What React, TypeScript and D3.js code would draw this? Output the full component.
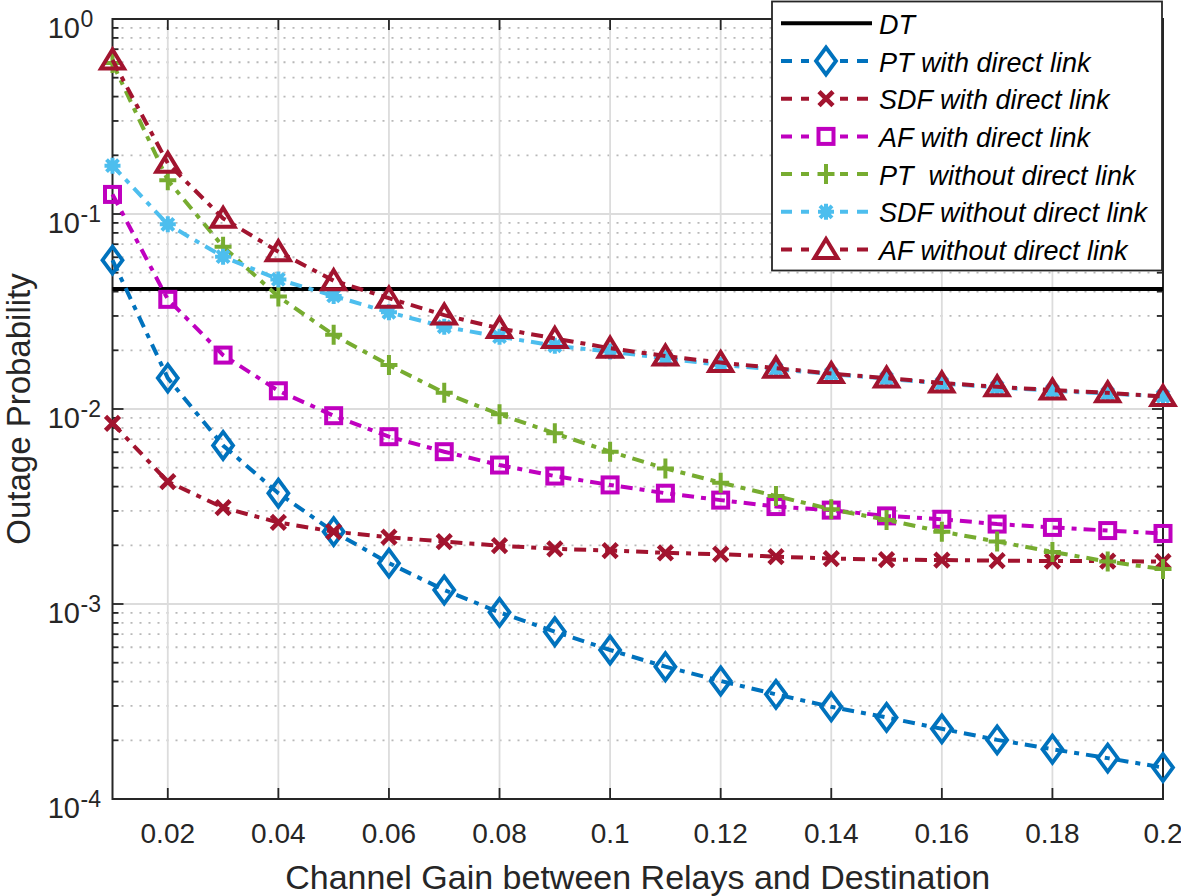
import React from 'react';
import * as d3 from 'd3';

// ---------------- data ----------------
const gains = [0.01, 0.02, 0.03, 0.04, 0.05, 0.06, 0.07, 0.08, 0.09, 0.1, 0.11, 0.12, 0.13, 0.14, 0.15, 0.16, 0.17, 0.18, 0.19, 0.2];

const dtValue = 0.0413;

const ptWith = [0.058, 0.0144, 0.0065, 0.0037, 0.00235, 0.00162, 0.00118, 0.000906, 0.000721, 0.000581, 0.000477, 0.000403, 0.000344, 0.000297, 0.000262, 0.000229, 0.000201, 0.00018, 0.000162, 0.000145];
const sdfWith = [0.00845, 0.00424, 0.00312, 0.00262, 0.00235, 0.0022, 0.00209, 0.00199, 0.00192, 0.00188, 0.00183, 0.0018, 0.00175, 0.00171, 0.00169, 0.00168, 0.00167, 0.00166, 0.00166, 0.00165];
const afWith = [0.126, 0.0365, 0.0189, 0.0124, 0.00924, 0.00721, 0.00604, 0.00516, 0.00453, 0.00408, 0.0037, 0.00341, 0.00316, 0.00303, 0.00283, 0.00272, 0.00257, 0.00247, 0.00238, 0.0023];
const ptWithout = [0.595, 0.149, 0.068, 0.0377, 0.024, 0.0168, 0.0121, 0.00939, 0.0075, 0.00604, 0.00496, 0.00419, 0.00358, 0.00306, 0.0027, 0.00235, 0.00209, 0.00185, 0.00165, 0.00151];
const sdfWithout = [0.177, 0.0885, 0.0604, 0.0462, 0.038, 0.0313, 0.0264, 0.0235, 0.0211, 0.0197, 0.0182, 0.0168, 0.016, 0.0151, 0.0143, 0.0135, 0.0129, 0.0124, 0.012, 0.0116];
const afWithout = [0.616, 0.182, 0.095, 0.0641, 0.0455, 0.037, 0.0303, 0.0259, 0.023, 0.0205, 0.0187, 0.0173, 0.0162, 0.0152, 0.0144, 0.0136, 0.013, 0.0125, 0.0121, 0.0116];

const xTicks = [0.02, 0.04, 0.06, 0.08, 0.1, 0.12, 0.14, 0.16, 0.18, 0.2];
const xTickLabels = ['0.02', '0.04', '0.06', '0.08', '0.1', '0.12', '0.14', '0.16', '0.18', '0.2'];
const yTickExponents = [0, -1, -2, -3, -4];

const legendLabels = ['DT', 'PT with direct link', 'SDF with direct link', 'AF with direct link', 'PT  without direct link', 'SDF without direct link', 'AF without direct link'];

const xLabel = 'Channel Gain between Relays and Destination';
const yLabel = 'Outage Probability';

// ---------------- styling ----------------
const W = 1181;
const H = 896;
const P = { left: 112.5, right: 1163, top: 19, bottom: 799 };
const FONT = '"Liberation Sans", Arial, Helvetica, sans-serif';
const AXIS_COLOR = '#262626';
const DASH = '12,7,5,7';
const LW = 4;

type MarkerKind = 'diamond' | 'x' | 'square' | 'plus' | 'star' | 'triangle';

const series: { values: number[]; color: string; marker: MarkerKind }[] = [
  { values: ptWith, color: '#0072BD', marker: 'diamond' },
  { values: sdfWith, color: '#A2142F', marker: 'x' },
  { values: afWith, color: '#BF00BF', marker: 'square' },
  { values: ptWithout, color: '#77AC30', marker: 'plus' },
  { values: sdfWithout, color: '#4DBEEE', marker: 'star' },
  { values: afWithout, color: '#A2142F', marker: 'triangle' },
];

function Marker({ kind, cx, cy, color }: { kind: MarkerKind; cx: number; cy: number; color: string }) {
  const common = { fill: 'none', stroke: color, strokeLinejoin: 'miter' as const };
  switch (kind) {
    case 'diamond':
      return <path d={`M${cx},${cy - 13.5}L${cx + 10},${cy}L${cx},${cy + 13.5}L${cx - 10},${cy}Z`} {...common} strokeWidth={3.8} />;
    case 'square':
      return <rect x={cx - 7.5} y={cy - 7.5} width={15} height={15} {...common} strokeWidth={4} />;
    case 'x':
      return <path d={`M${cx - 7},${cy - 7}L${cx + 7},${cy + 7}M${cx - 7},${cy + 7}L${cx + 7},${cy - 7}`} {...common} strokeWidth={4.6} />;
    case 'plus':
      return <path d={`M${cx - 8.5},${cy}L${cx + 8.5},${cy}M${cx},${cy - 10}L${cx},${cy + 10}`} {...common} strokeWidth={4} />;
    case 'star':
      return (
        <g>
          <path d={`M${cx - 8},${cy}L${cx + 8},${cy}M${cx},${cy - 8}L${cx},${cy + 8}M${cx - 6},${cy - 6}L${cx + 6},${cy + 6}M${cx - 6},${cy + 6}L${cx + 6},${cy - 6}`} {...common} strokeWidth={4} />
          <circle cx={cx} cy={cy} r={5.5} fill={color} />
        </g>
      );
    case 'triangle':
      return <path d={`M${cx},${cy - 10.5}L${cx + 11.5},${cy + 8.5}L${cx - 11.5},${cy + 8.5}Z`} {...common} strokeWidth={4} />;
  }
  return null;
}

export default function App() {
  const x = d3.scaleLinear().domain([0.01, 0.2]).range([P.left, P.right]);
  const y = d3.scaleLog().domain([1e-4, 1]).range([P.bottom, P.top]);

  const allTicks = y.ticks();
  const minorTicks = allTicks.filter((t) => {
    const l = Math.log10(t);
    return Math.abs(l - Math.round(l)) > 1e-6;
  });

  const line = d3
    .line<number>()
    .x((_, i) => x(gains[i]))
    .y((d) => y(d));

  const legendX = 772;
  const legendY = 1.5;
  const legendW = 390;
  const legendH = 269;
  const rowY0 = 23.3;
  const rowStep = 37.7;

  return (
    <svg width={W} height={H} style={{ position: 'absolute', left: 0, top: 0, background: '#fff' }} xmlns="http://www.w3.org/2000/svg">
      <rect x={0} y={0} width={W} height={H} fill="#fff" />
      <rect x={P.left} y={P.top} width={P.right - P.left} height={P.bottom - P.top} fill="#fff" />

      {/* minor y grid */}
      {minorTicks.map((t, i) => (
        <line key={'mg' + i} x1={P.left} x2={P.right} y1={y(t)} y2={y(t)} stroke="#b8b8b8" strokeWidth={1.8} strokeDasharray="2,7" />
      ))}
      {/* major y grid */}
      {yTickExponents.map((e) => (
        <line key={'yg' + e} x1={P.left} x2={P.right} y1={y(Math.pow(10, e))} y2={y(Math.pow(10, e))} stroke="#dcdcdc" strokeWidth={1.8} />
      ))}
      {/* major x grid */}
      {xTicks.map((t) => (
        <line key={'xg' + t} x1={x(t)} x2={x(t)} y1={P.top} y2={P.bottom} stroke="#dcdcdc" strokeWidth={1.8} />
      ))}

      {/* ticks */}
      {xTicks.map((t) => (
        <g key={'xt' + t}>
          <line x1={x(t)} x2={x(t)} y1={P.bottom} y2={P.bottom - 11} stroke={AXIS_COLOR} strokeWidth={1.8} />
          <line x1={x(t)} x2={x(t)} y1={P.top} y2={P.top + 11} stroke={AXIS_COLOR} strokeWidth={1.8} />
        </g>
      ))}
      {yTickExponents.map((e) => (
        <g key={'yt' + e}>
          <line x1={P.left} x2={P.left + 11} y1={y(Math.pow(10, e))} y2={y(Math.pow(10, e))} stroke={AXIS_COLOR} strokeWidth={1.8} />
          <line x1={P.right} x2={P.right - 11} y1={y(Math.pow(10, e))} y2={y(Math.pow(10, e))} stroke={AXIS_COLOR} strokeWidth={1.8} />
        </g>
      ))}
      {minorTicks.map((t, i) => (
        <g key={'mt' + i}>
          <line x1={P.left} x2={P.left + 6} y1={y(t)} y2={y(t)} stroke={AXIS_COLOR} strokeWidth={1.8} />
          <line x1={P.right} x2={P.right - 6} y1={y(t)} y2={y(t)} stroke={AXIS_COLOR} strokeWidth={1.8} />
        </g>
      ))}

      {/* axis box */}
      <rect x={P.left} y={P.top} width={P.right - P.left} height={P.bottom - P.top} fill="none" stroke={AXIS_COLOR} strokeWidth={2} />

      {/* DT line */}
      <line x1={P.left} x2={P.right} y1={y(dtValue)} y2={y(dtValue)} stroke="#000" strokeWidth={LW} />

      {/* series */}
      {series.map((s, si) => (
        <g key={'s' + si}>
          <path d={line(s.values) || ''} fill="none" stroke={s.color} strokeWidth={LW} strokeDasharray={DASH} />
          {s.values.map((v, i) => (
            <Marker key={i} kind={s.marker} cx={x(gains[i])} cy={y(v)} color={s.color} />
          ))}
        </g>
      ))}

      {/* x tick labels */}
      {xTicks.map((t, i) => (
        <text key={'xl' + t} x={x(t)} y={843} textAnchor="middle" fontFamily={FONT} fontSize={28} fill={AXIS_COLOR}>
          {xTickLabels[i]}
        </text>
      ))}
      {/* y tick labels */}
      {yTickExponents.map((e) => {
        const ty = y(Math.pow(10, e));
        return (
          <g key={'yl' + e}>
            <text x={80} y={ty + 18.5} textAnchor="end" fontFamily={FONT} fontSize={29} fill={AXIS_COLOR}>
              10
            </text>
            <text x={80.5} y={ty + 8} textAnchor="start" fontFamily={FONT} fontSize={23} fill={AXIS_COLOR}>
              {e === 0 ? '0' : '-' + Math.abs(e)}
            </text>
          </g>
        );
      })}

      {/* axis labels */}
      <text x={(P.left + P.right) / 2} y={889} textAnchor="middle" fontFamily={FONT} fontSize={34} fill={AXIS_COLOR}>
        {xLabel}
      </text>
      <text transform={`translate(30,${(P.top + P.bottom) / 2}) rotate(-90)`} textAnchor="middle" fontFamily={FONT} fontSize={33} fill={AXIS_COLOR}>
        {yLabel}
      </text>

      {/* legend */}
      <g>
        <rect x={legendX} y={legendY} width={legendW} height={legendH} fill="#fff" stroke="#262626" strokeWidth={1.8} />
        {legendLabels.map((lab, i) => {
          const ry = legendY + rowY0 - 1.5 + i * rowStep;
          const s = i === 0 ? null : series[i - 1];
          return (
            <g key={'lg' + i}>
              {s ? (
                <>
                  <line x1={781} x2={872} y1={ry} y2={ry} stroke={s.color} strokeWidth={LW} strokeDasharray="11,9,8,31,8,9,11" />
                  <Marker kind={s.marker} cx={826} cy={ry} color={s.color} />
                </>
              ) : (
                <line x1={781} x2={872} y1={ry} y2={ry} stroke="#000" strokeWidth={LW} />
              )}
              <text x={879} y={ry + 10.5} fontFamily={FONT} fontSize={27} fontStyle="italic" fill="#000" style={{ whiteSpace: 'pre' }}>
                {lab}
              </text>
            </g>
          );
        })}
      </g>
    </svg>
  );
}
